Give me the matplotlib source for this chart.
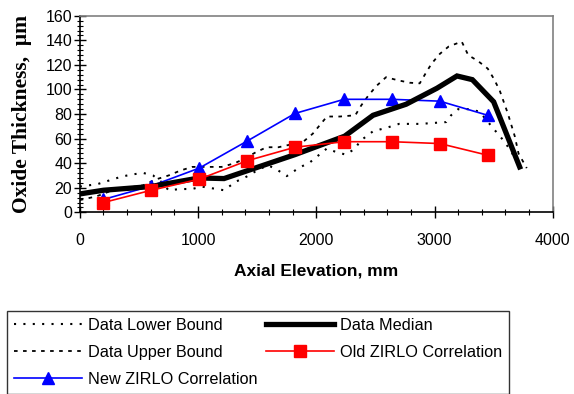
import matplotlib
matplotlib.use("Agg")
import matplotlib.pyplot as plt
from matplotlib.ticker import MultipleLocator

plt.rcParams['font.family'] = ['Liberation Sans', 'DejaVu Sans']

# measured data (axial elevation in mm, oxide thickness in um)
lower_x = [0, 150, 250, 350, 450, 540, 620, 700, 750, 850, 950, 1030, 1220, 1320,
           1400, 1480, 1590, 1680, 1750, 1850, 1950, 2020, 2090, 2170, 2250, 2330,
           2370, 2480, 2600, 2700, 2880, 3100, 3140, 3200, 3290, 3380, 3500, 3570,
           3640, 3720]
lower_y = [21, 23, 26, 29, 31, 32, 30, 24, 18, 19, 19, 21, 18, 25,
           28.5, 33, 38.5, 34, 29.5, 36, 41, 46.5, 52, 49, 47, 52,
           58, 66, 69, 72, 72, 73.5, 79, 84, 84, 82, 68, 60,
           51, 37]

upper_x = [0, 140, 250, 400, 535, 650, 750, 850, 950, 1040, 1200, 1310, 1400, 1490,
           1580, 1680, 1890, 1970, 2030, 2090, 2200, 2330, 2380, 2440, 2510, 2590,
           2690, 2790, 2875, 2930, 2975, 3045, 3120, 3230, 3285, 3370, 3450, 3500,
           3550, 3620, 3680, 3710, 3780]
upper_y = [10, 13, 17, 20, 22, 27, 30, 34, 37, 37, 37, 40, 44, 49,
           53, 53, 57.5, 64, 71, 78, 78, 79, 87, 95, 103, 110,
           107.5, 105.5, 105, 114, 121, 129, 135, 139, 128, 123, 117, 109,
           99.5, 80.5, 61.5, 48, 36]

median_x = [0, 200, 600, 1010, 1220, 1420, 1820, 2240, 2480, 2760, 3020, 3190,
            3320, 3500, 3720]
median_y = [15, 18, 21, 28, 27.5, 34, 47, 62, 79, 88, 101, 111,
            108, 90, 37]

corr_x = [200, 605, 1010, 1415, 1820, 2235, 2640, 3045, 3450]
old_zirlo = [8, 18, 27, 42, 53, 57.5, 57.5, 56, 46.5]
new_zirlo = [10.5, 21.5, 36, 58, 80.5, 92, 92, 90.5, 79]

fig = plt.figure(figsize=(5.74, 3.94), dpi=100)
ax = fig.add_axes([0.139, 0.461, 0.824, 0.499])

l_low, = ax.plot(lower_x, lower_y, color='black', lw=1.5, ls=(0, (1, 3.5)),
                 label='Data Lower Bound')
l_up, = ax.plot(upper_x, upper_y, color='black', lw=1.3, ls=(0, (2, 3)),
                label='Data Upper Bound')
l_new, = ax.plot(corr_x, new_zirlo, color='blue', lw=1.2, marker='^', ms=8,
                 label='New ZIRLO Correlation')
l_med, = ax.plot(median_x, median_y, color='black', lw=3.8,
                 solid_joinstyle='miter', label='Data Median')
l_old, = ax.plot(corr_x, old_zirlo, color='red', lw=1.2, marker='s', ms=8.5,
                 label='Old ZIRLO Correlation')

ax.set_xlim(0, 4000)
ax.set_ylim(0, 160)
ax.xaxis.set_major_locator(MultipleLocator(1000))
ax.xaxis.set_minor_locator(MultipleLocator(200))
ax.yaxis.set_major_locator(MultipleLocator(20))
ax.yaxis.set_minor_locator(MultipleLocator(4))
ax.tick_params(axis='both', which='major', direction='inout', length=8, width=1,
               labelsize=11.5)
ax.tick_params(axis='both', which='minor', direction='inout', length=4, width=0.8)
ax.tick_params(axis='x', which='major', pad=11)
ax.tick_params(axis='y', which='major', pad=1.5)
ax.tick_params(top=False, right=False, which='both')

for s in ['top', 'right']:
    ax.spines[s].set_color('#808080')
    ax.spines[s].set_linewidth(1.2)
for s in ['left', 'bottom']:
    ax.spines[s].set_linewidth(1.2)

ax.set_xlabel('Axial Elevation, mm', fontsize=12.5, fontweight='bold', labelpad=11)
ax.set_ylabel('Oxide Thickness,  \u03bcm', fontsize=15.5, fontweight='bold',
              family=['Liberation Serif', 'DejaVu Serif'], labelpad=10)

leg = fig.legend(handles=[l_low, l_up, l_new, l_med, l_old], ncol=2,
                 loc='upper left', bbox_to_anchor=(0.012, 0.211),
                 fontsize=11.7, frameon=True, fancybox=False, borderaxespad=0,
                 handlelength=4.2, handletextpad=0.35, columnspacing=0.5,
                 labelspacing=0.72, borderpad=0.45)
leg.get_frame().set_edgecolor('black')
leg.get_frame().set_linewidth(1)

fig.savefig('out.png', dpi=100)
